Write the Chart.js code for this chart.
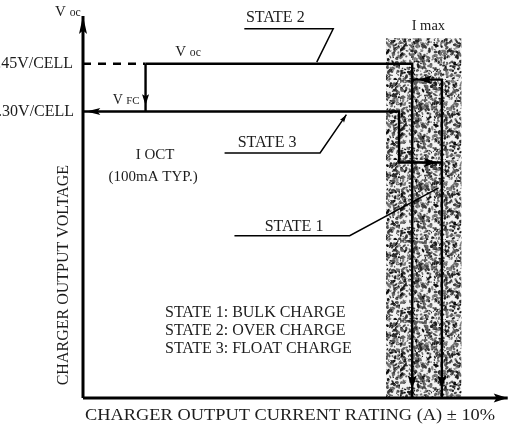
<!DOCTYPE html>
<html><head><meta charset="utf-8">
<script src="https://cdn.jsdelivr.net/npm/chart.js@4"></script>
<style>html,body{margin:0;padding:0;background:#fff}canvas{display:block}</style>
</head><body>
<canvas id="c" width="514" height="426"></canvas>
<script>
// ---- data (x: output current, % of I max ; y: volts per cell) ----
const xMin = 0, xMax = 130, xAxisEnd = 129;
const yMin = 1.4, yMax = 2.6;
const cellVoltages = [2.45, 2.30];
const cellVoltageLabels = ['2.45V/CELL', '2.30V/CELL'];
const dashedX = [0, 19], dashedY = [2.45, 2.45];
const overChargeX = [19, 100, 100], overChargeY = [2.45, 2.45, 1.4];
const dropX = [19, 19], dropY = [2.45, 2.30];
const floatX = [0, 96, 96, 109], floatY = [2.30, 2.30, 2.14, 2.14];
const innerX = [100, 109, 109], innerY = [2.40, 2.40, 1.4];
const imaxBandX = [92, 115], imaxBandTop = 2.53;
const state1LeaderX = [46, 81, 108], state1LeaderY = [1.91, 1.91, 2.06];
const state2LeaderX = [49, 76, 71], state2LeaderY = [2.56, 2.56, 2.455];
const state3LeaderX = [43, 72, 80], state3LeaderY = [2.17, 2.17, 2.29];
const stateLabels = ['STATE 1', 'STATE 2', 'STATE 3'];
const stateLegend = ['STATE 1: BULK CHARGE', 'STATE 2: OVER CHARGE', 'STATE 3: FLOAT CHARGE'];
const axisTitleY = 'CHARGER OUTPUT VOLTAGE';
const axisTitleX = 'CHARGER OUTPUT CURRENT RATING (A) \u00b1 10%';

function pts(xs, ys) { return xs.map((x, i) => ({ x: x, y: ys[i] })); }

// stipple texture for the I max band (deterministic)
function makeStipple() {
  const n = 80, c = document.createElement('canvas'); c.width = c.height = n;
  const g = c.getContext('2d');
  g.fillStyle = '#f2f2f2'; g.fillRect(0, 0, n, n);
  let s = 987654;
  const rnd = () => { s = (s * 1103515245 + 12345) & 0x7fffffff; return s / 0x7fffffff; };
  for (let i = 0; i < 1100; i++) {
    const x = rnd() * n, y = rnd() * n, r = 0.4 + rnd() * 1.0, v = 10 + Math.floor(rnd() * 130);
    g.fillStyle = 'rgb(' + v + ',' + v + ',' + v + ')';
    g.beginPath(); g.ellipse(x, y, r * (1 + rnd() * 1.2), r, rnd() * 3.14, 0, 7); g.fill();
  }
  return g.createPattern(c, 'repeat');
}

const FONT = '"Liberation Serif", "Times New Roman", serif';
const TXT = '#1c1c1c';

// label positions in data units
const labels = [
  { t: 'V', sub: 'oc', x: -4.6, y: 2.612, size: 15, align: 'center' },
  { t: 'V', sub: 'oc', x: 31.9, y: 2.487, size: 15, align: 'center' },
  { t: 'V', sub: 'FC', x: 13.1, y: 2.336, size: 14, align: 'center' },
  { t: cellVoltageLabels[0], x: -3.0, y: cellVoltages[0], size: 16, align: 'right' },
  { t: cellVoltageLabels[1], x: -2.7, y: cellVoltages[1], size: 16, align: 'right' },
  { t: stateLabels[1], x: 58.4, y: 2.594, size: 16, align: 'center' },
  { t: 'I max', x: 104.9, y: 2.568, size: 14.5, align: 'center' },
  { t: stateLabels[2], x: 55.9, y: 2.201, size: 16, align: 'center' },
  { t: 'I OCT', x: 21.9, y: 2.163, size: 15, align: 'center' },
  { t: '(100mA TYP.)', x: 21.3, y: 2.094, size: 15, align: 'center' },
  { t: stateLabels[0], x: 64.1, y: 1.937, size: 16, align: 'center' },
  { t: stateLegend[0], x: 24.9, y: 1.667, size: 16, align: 'left' },
  { t: stateLegend[1], x: 24.9, y: 1.611, size: 16, align: 'left' },
  { t: stateLegend[2], x: 24.9, y: 1.554, size: 16, align: 'left' },
  { t: axisTitleY, x: -5.8, y: 1.786, size: 16, align: 'center', rot: -Math.PI / 2 },
  { t: axisTitleX, x: 62.9, y: 1.345, size: 16.5, align: 'center', w: 410 }
];

// arrowheads: tip position (data units), direction, length, half width
const arrows = [
  { x: 0, y: 2.6, d: 'up', l: 18, h: 4 },
  { x: xAxisEnd, y: 1.4, d: 'right', l: 14, h: 4.5 },
  { x: 19, y: 2.32, d: 'down', l: 11, h: 3.5 },
  { x: 1, y: 2.30, d: 'left', l: 14, h: 3.5 },
  { x: 102, y: 2.40, d: 'left', l: 13, h: 4.5 },
  { x: 107.5, y: 2.14, d: 'right', l: 13, h: 4.5 },
  { x: 100, y: 1.43, d: 'down', l: 13, h: 4.5 },
  { x: 109, y: 1.43, d: 'down', l: 13, h: 4.5 },
  { x: 80, y: 2.29, d: 'ne', l: 8, h: 2.5 }
];

const overlay = {
  id: 'overlay',
  afterDatasetsDraw(chart) {
    const ctx = chart.ctx, sx = chart.scales.x, sy = chart.scales.y;
    ctx.save();
    ctx.fillStyle = '#000';
    arrows.forEach(a => {
      const px = sx.getPixelForValue(a.x), py = sy.getPixelForValue(a.y);
      let ang = { up: -Math.PI / 2, down: Math.PI / 2, left: Math.PI, right: 0, ne: -0.98 }[a.d];
      ctx.save(); ctx.translate(px, py); ctx.rotate(ang);
      ctx.beginPath(); ctx.moveTo(0, 0); ctx.lineTo(-a.l, -a.h); ctx.lineTo(-a.l * 0.8, 0); ctx.lineTo(-a.l, a.h); ctx.closePath(); ctx.fill();
      ctx.restore();
    });
    ctx.fillStyle = TXT;
    ctx.textBaseline = 'middle';
    labels.forEach(L => {
      const px = sx.getPixelForValue(L.x), py = sy.getPixelForValue(L.y);
      ctx.save(); ctx.translate(px, py);
      if (L.rot) ctx.rotate(L.rot);
      ctx.font = L.size + 'px ' + FONT;
      if (L.sub) {
        const w1 = ctx.measureText(L.t + ' ').width;
        ctx.font = (L.size * 0.78) + 'px ' + FONT;
        const w2 = ctx.measureText(L.sub).width;
        const tot = w1 + w2, x0 = -tot / 2;
        ctx.textAlign = 'left';
        ctx.font = L.size + 'px ' + FONT; ctx.fillText(L.t, x0, 0);
        ctx.font = (L.size * 0.78) + 'px ' + FONT; ctx.fillText(L.sub, x0 + w1, 1);
      } else {
        if (L.w) { const mw = ctx.measureText(L.t).width; ctx.scale(L.w / mw, 1); }
        ctx.textAlign = L.align; ctx.fillText(L.t, 0, 0);
      }
      ctx.restore();
    });
    ctx.restore();
  }
};

const line = (data, extra) => Object.assign({
  data: data, borderColor: '#000', borderWidth: 2.4, pointRadius: 0, fill: false,
  tension: 0, clip: false, order: 0
}, extra || {});

new Chart(document.getElementById('c'), {
  type: 'line',
  data: {
    datasets: [
      line(pts(imaxBandX, [imaxBandTop, imaxBandTop]), { borderWidth: 0, fill: 'start', backgroundColor: makeStipple(), order: 10, clip: 0 }),
      line(pts([0, 0], [yMin, yMax]), { borderWidth: 3 }),
      line(pts([0, xAxisEnd], [yMin, yMin]), { borderWidth: 3 }),
      line(pts(dashedX, dashedY), { borderDash: [8, 7] }),
      line(pts(overChargeX, overChargeY)),
      line(pts(dropX, dropY)),
      line(pts(floatX, floatY)),
      line(pts(innerX, innerY)),
      line(pts(state1LeaderX, state1LeaderY), { borderWidth: 1.5 }),
      line(pts(state2LeaderX, state2LeaderY), { borderWidth: 1.5 }),
      line(pts(state3LeaderX, state3LeaderY), { borderWidth: 1.5 })
    ]
  },
  options: {
    responsive: false, animation: false, events: [],
    layout: { padding: { left: 83, right: 3, top: 16, bottom: 28 } },
    plugins: { legend: { display: false }, tooltip: { enabled: false } },
    scales: {
      x: { type: 'linear', min: xMin, max: xMax, display: false },
      y: { type: 'linear', min: yMin, max: yMax, display: false }
    }
  },
  plugins: [overlay]
});
</script>
</body></html>
